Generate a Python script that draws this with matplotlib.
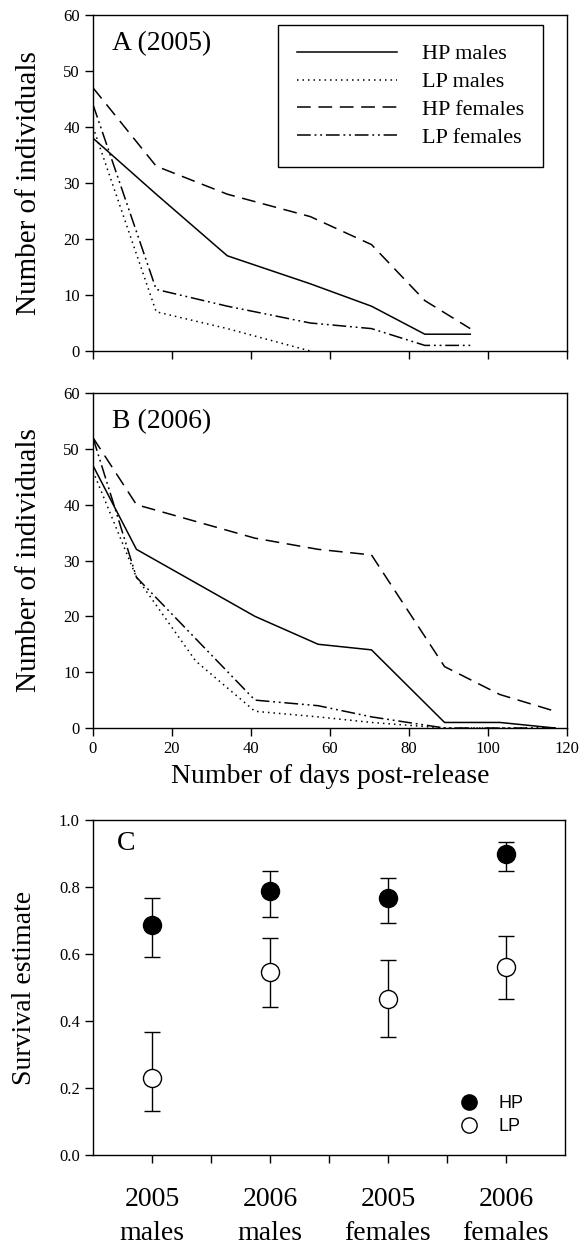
import matplotlib
matplotlib.use("Agg")
import matplotlib.pyplot as plt
from matplotlib.lines import Line2D

plt.rcParams["font.family"] = ["Liberation Serif", "DejaVu Serif"]

nan = float("nan")

# panel A (2005): days post-release and counts
days_a = [0, 16, 34, 55, 70.5, 84, 95.5]
hp_males_a = [38, 28, 17, 12, 8, 3, 3]
lp_males_a = [40, 7, 4, 0, nan, nan, nan]
hp_females_a = [47, 33, 28, 24, 19, 9, 4]
lp_females_a = [44, 11, 8, 5, 4, 1, 1]

# panel B (2006)
days_b = [0, 11, 26, 41, 57, 70.5, 89, 103, 117]
hp_males_b = [47, 32, 26, 20, 15, 14, 1, 1, 0]
lp_males_b = [46, 27, 12, 3, 2, 1, 0, 0, 0]
hp_females_b = [52, 40, 37, 34, 32, 31, 11, 6, 3]
lp_females_b = [52, 27, 16, 5, 4, 2, 0, 0, 0]

# panel C: survival estimates with confidence limits
groups = ["2005\nmales", "2006\nmales", "2005\nfemales", "2006\nfemales"]
hp_est = [0.687, 0.789, 0.766, 0.899]
hp_lo = [0.592, 0.711, 0.694, 0.848]
hp_hi = [0.767, 0.849, 0.828, 0.933]
lp_est = [0.229, 0.545, 0.466, 0.562]
lp_lo = [0.131, 0.441, 0.351, 0.466]
lp_hi = [0.368, 0.647, 0.582, 0.654]

series_names = ["HP males", "LP males", "HP females", "LP females"]
styles = ["-", (0, (1, 2.6)), (0, (9, 5)), (0, (9, 2.5, 1.2, 2.5, 1.2, 2.5))]

fig = plt.figure(figsize=(5.79, 12.46), dpi=100)
ax_a = fig.add_axes([0.1606, 0.7183, 0.8187, 0.2697])
ax_b = fig.add_axes([0.1606, 0.4157, 0.8187, 0.2689])
ax_c = fig.add_axes([0.1606, 0.0730, 0.8152, 0.2689])


def style_axis(ax):
    for s in ax.spines.values():
        s.set_linewidth(1.0)
    ax.tick_params(direction="out", length=6, width=1.0, labelsize=12)


for ax, days, data, tag in [
    (ax_a, days_a, [hp_males_a, lp_males_a, hp_females_a, lp_females_a], "A (2005)"),
    (ax_b, days_b, [hp_males_b, lp_males_b, hp_females_b, lp_females_b], "B (2006)"),
]:
    for vals, ls, name in zip(data, styles, series_names):
        ax.plot(days, vals, color="black", linestyle=ls, lw=1.1, label=name)
    ax.set_xlim(0, 120)
    ax.set_ylim(0, 60)
    ax.set_xticks(range(0, 121, 20))
    ax.set_yticks(range(0, 61, 10))
    ax.set_ylabel("Number of individuals", fontsize=21)
    ax.yaxis.set_label_coords(-0.108, 0.5)
    ax.text(0.04, 0.915, tag, transform=ax.transAxes, fontsize=20, va="center")
    style_axis(ax)

ax_a.set_xticklabels([])
leg = ax_a.legend(loc="upper right", bbox_to_anchor=(0.949, 0.970), fontsize=16,
                  handlelength=4.5, labelspacing=0.33, handletextpad=1.1,
                  borderpad=0.85, borderaxespad=0, fancybox=False,
                  edgecolor="black", framealpha=1)
leg.get_frame().set_linewidth(1.0)

ax_b.set_xlabel("Number of days post-release", fontsize=20, labelpad=5)

x = [0.5, 1.5, 2.5, 3.5]
ax_c.errorbar(x, hp_est, yerr=[[e - l for e, l in zip(hp_est, hp_lo)], [h - e for e, h in zip(hp_est, hp_hi)]],
              fmt="o", color="black", markersize=13, capsize=6, elinewidth=1, capthick=1, zorder=3)
ax_c.errorbar(x, lp_est, yerr=[[e - l for e, l in zip(lp_est, lp_lo)], [h - e for e, h in zip(lp_est, lp_hi)]],
              fmt="o", color="black", mfc="white", mec="black", markersize=13, capsize=6,
              elinewidth=1, capthick=1, zorder=3)
ax_c.set_xlim(0, 4)
ax_c.set_ylim(0, 1.0)
ax_c.set_xticks(x)
ax_c.set_xticklabels(groups, fontsize=20, linespacing=1.45)
ax_c.set_xticks([1, 2, 3], minor=True)
ax_c.set_yticks([0, 0.2, 0.4, 0.6, 0.8, 1.0])
ax_c.set_yticklabels(["0.0", "0.2", "0.4", "0.6", "0.8", "1.0"])
ax_c.set_ylabel("Survival estimate", fontsize=20)
ax_c.yaxis.set_label_coords(-0.118, 0.5)
style_axis(ax_c)
ax_c.tick_params(axis="x", which="major", labelsize=20, pad=17)
ax_c.tick_params(axis="x", which="minor", direction="out", length=6, width=1.0)
ax_c.text(0.05, 0.93, "C", transform=ax_c.transAxes, fontsize=20, va="center")

handles = [Line2D([], [], marker="o", ls="", color="black", markersize=11),
           Line2D([], [], marker="o", ls="", mfc="white", mec="black", markersize=11)]
ax_c.legend(handles, ["HP", "LP"], loc="lower left", bbox_to_anchor=(0.74, 0.01),
            frameon=False, handlelength=1.2, handletextpad=1.0, labelspacing=0.35,
            prop={"family": "Liberation Sans", "size": 13})

fig.savefig("out.png", dpi=100)
